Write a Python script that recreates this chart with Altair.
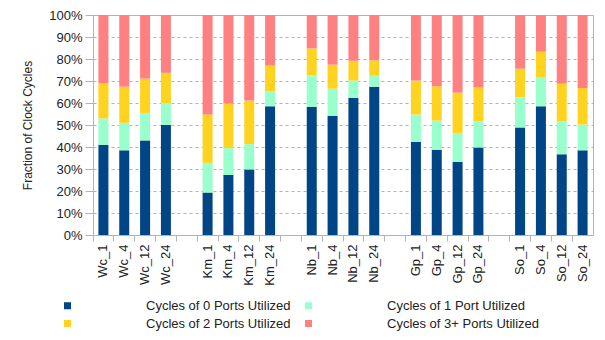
import altair as alt
import pandas as pd

# categories (gap slots separate the five benchmark groups)
categories = ["Wc_1", "Wc_4", "Wc_12", "Wc_24", "gap1",
              "Km_1", "Km_4", "Km_12", "Km_24", "gap2",
              "Nb_1", "Nb_4", "Nb_12", "Nb_24", "gap3",
              "Gp_1", "Gp_4", "Gp_12", "Gp_24", "gap4",
              "So_1", "So_4", "So_12", "So_24"]
bars = ["Wc_1", "Wc_4", "Wc_12", "Wc_24",
        "Km_1", "Km_4", "Km_12", "Km_24",
        "Nb_1", "Nb_4", "Nb_12", "Nb_24",
        "Gp_1", "Gp_4", "Gp_12", "Gp_24",
        "So_1", "So_4", "So_12", "So_24"]

series = ["Cycles of 0 Ports Utilized", "Cycles of 1 Port Utilized",
          "Cycles of 2 Ports Utilized", "Cycles of 3+ Ports Utilized"]
colors = ["#004586", "#99ffcc", "#ffd320", "#ff8080"]

# percent of clock cycles per segment
ports0 = [41.0, 38.5, 43.0, 50.0, 19.3, 27.3, 29.8, 58.5, 58.3, 54.2, 62.4, 67.4, 42.4, 38.8, 33.2, 39.8, 48.9, 58.5, 36.7, 38.5]
ports1 = [12.0, 12.5, 12.5, 10.0, 13.5, 12.2, 11.5, 6.8, 14.3, 12.3, 7.8, 5.0, 12.4, 13.2, 13.2, 11.9, 13.7, 13.3, 15.1, 11.7]
ports2 = [15.9, 16.4, 15.6, 13.7, 22.0, 20.3, 19.8, 11.7, 12.2, 10.9, 9.0, 7.0, 15.4, 15.6, 18.3, 15.3, 13.0, 11.5, 17.0, 16.6]
ports3 = [31.1, 32.6, 28.9, 26.3, 45.2, 40.2, 38.9, 23.0, 15.2, 22.6, 20.8, 20.6, 29.8, 32.4, 35.3, 33.0, 24.4, 16.7, 31.2, 33.2]

rows = []
for s_i, (name, vals) in enumerate(zip(series, [ports0, ports1, ports2, ports3])):
    for b, v in zip(bars, vals):
        rows.append({"bench": b, "series": name, "order": s_i, "value": v})
df = pd.DataFrame(rows)

FONT = "Liberation Sans"

chart = alt.Chart(df).mark_bar(width=alt.RelativeBandSize(0.48)).encode(
    x=alt.X("bench:N", scale=alt.Scale(domain=categories, paddingInner=0, paddingOuter=0),
            axis=alt.Axis(title=None, labelAngle=-90, labelFontSize=13, labelPadding=3,
                          tickSize=6, bandPosition=0, grid=False,
                          labelExpr="indexof(datum.value, 'gap') == 0 ? '' : datum.value")),
    y=alt.Y("value:Q", stack="zero", scale=alt.Scale(domain=[0, 100], nice=False),
            axis=alt.Axis(title="Fraction of Clock Cycles", values=list(range(0, 101, 10)),
                          labelExpr="datum.value + '%'", labelFontSize=13, titleFontSize=12,
                          titleFontWeight="normal", tickSize=8, labelPadding=3, titlePadding=14,
                          grid=True, gridDash=[3, 3], gridColor="#b3b3b3")),
    color=alt.Color("series:N", scale=alt.Scale(domain=series, range=colors),
                    legend=alt.Legend(orient="none", legendX=-32, legendY=284, columns=2,
                                      direction="horizontal",
                                      title=None, symbolType="square", symbolSize=49,
                                      symbolStrokeWidth=0, labelOffset=72, labelFontSize=13,
                                      columnPadding=11, rowPadding=4, padding=0)),
    order=alt.Order("order:Q", sort="ascending"),
).properties(
    width=500, height=220,
    autosize=alt.AutoSizeParams(type="none"),
    padding={"left": 85, "top": 7, "right": 4, "bottom": 100},
).configure(font=FONT).configure_axis(
    domainColor="#b3b3b3", tickColor="#b3b3b3", labelColor="#222222", titleColor="#222222",
    labelFont=FONT, titleFont=FONT,
).configure_legend(labelFont=FONT, labelColor="#222222").configure_view(stroke="#b3b3b3")

chart.save("out.html", embed_options={"renderer": "svg", "actions": False})
